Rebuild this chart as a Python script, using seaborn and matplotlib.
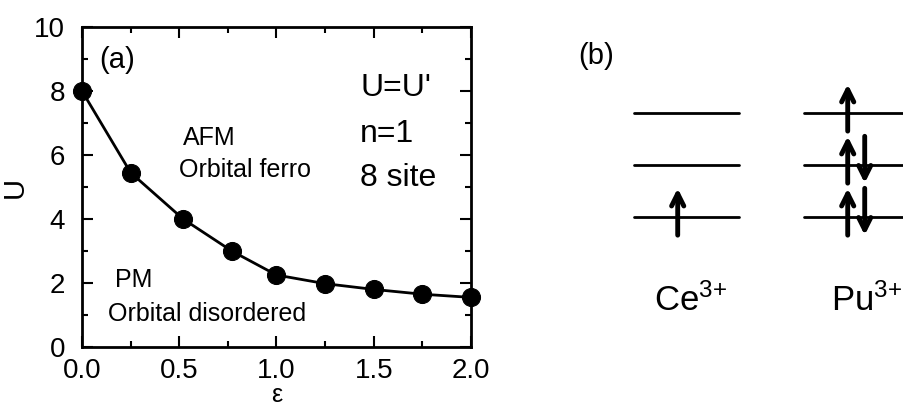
import matplotlib
matplotlib.use('Agg')
import matplotlib.pyplot as plt
import seaborn as sns
import pandas as pd
from matplotlib.ticker import MultipleLocator, FormatStrFormatter

# (a) phase boundary
eps = [0.0, 0.25, 0.52, 0.77, 1.0, 1.25, 1.5, 1.75, 2.0]
U_c = [8.0, 5.45, 4.0, 3.0, 2.25, 1.98, 1.8, 1.65, 1.55]

# (b) level occupations: (up, down) per level, levels 0..2 from bottom
ions = ['Ce$^{3{+}}$', 'Pu$^{3{+}}$']
occ = {'Ce$^{3{+}}$': [(1, 0), (0, 0), (0, 0)],
       'Pu$^{3{+}}$': [(1, 1), (1, 1), (1, 0)]}
levels = [0, 1, 2]
label_dx = [0.02, 0.06]

sns.set_style('ticks')
plt.rcParams['font.family'] = ['Liberation Sans', 'DejaVu Sans']
plt.rcParams['mathtext.fontset'] = 'custom'
plt.rcParams['mathtext.rm'] = 'Liberation Sans'
plt.rcParams['mathtext.it'] = 'Liberation Sans'
plt.rcParams['text.color'] = 'black'

fig = plt.figure(figsize=(9.04, 4.11), dpi=100)
ax = fig.add_axes([0.0907, 0.1557, 0.4303, 0.7786])

dfr = pd.DataFrame({'eps': eps, 'U': U_c})
sns.lineplot(data=dfr, x='eps', y='U', color='black', lw=2,
             marker='o', markersize=13, markeredgecolor='black', ax=ax,
             clip_on=False)

ax.set_xlim(0, 2.0)
ax.set_ylim(0, 10)
ax.xaxis.set_major_locator(MultipleLocator(0.5))
ax.xaxis.set_minor_locator(MultipleLocator(0.25))
ax.xaxis.set_major_formatter(FormatStrFormatter('%.1f'))
ax.yaxis.set_major_locator(MultipleLocator(2))
ax.yaxis.set_minor_locator(MultipleLocator(1))
ax.tick_params(which='both', direction='in', top=True, right=True, width=1.5,
               labelsize=20, colors='black')
ax.tick_params(axis='x', which='major', pad=8)
ax.tick_params(axis='y', which='major', pad=12)
ax.tick_params(which='major', length=8)
ax.tick_params(which='minor', length=4)
for s in ax.spines.values():
    s.set_linewidth(2)
    s.set_color('black')
ax.set_xlabel('ε', fontsize=18, labelpad=-1, color='black')
ax.set_ylabel('U', fontsize=21, labelpad=4, color='black')

ax.text(0.09, 8.97, '(a)', fontsize=21, va='center')
ax.text(0.52, 6.53, 'AFM', fontsize=18, va='center')
ax.text(0.50, 5.53, 'Orbital ferro', fontsize=18, va='center')
ax.text(0.17, 2.1, 'PM', fontsize=18, va='center')
ax.text(0.135, 1.03, 'Orbital disordered', fontsize=18, va='center')
ax.text(1.43, 8.1, "U=U'", fontsize=23, va='center')
ax.text(1.43, 6.65, 'n=1', fontsize=23, va='center')
ax.text(1.43, 5.28, '8 site', fontsize=23, va='center')

# (b) level scheme
bx = fig.add_axes([0.6186, 0.0, 0.3827, 1.0])
bx.set_xlim(-0.75, 1.285)
bx.set_ylim(-3.73, 4.17)
bx.axis('off')
for i, ion in enumerate(ions):
    for lv in levels:
        bx.plot([i - 0.31, i + 0.31], [lv, lv], color='black', lw=2)
        up, dn = occ[ion][lv]
        if up:
            bx.annotate('', xy=(i - 0.053, lv + 0.55), xytext=(i - 0.053, lv - 0.35),
                        arrowprops=dict(arrowstyle='->', lw=3.5, color='black',
                                        mutation_scale=22, shrinkA=0, shrinkB=0))
        if dn:
            bx.annotate('', xy=(i + 0.047, lv - 0.35), xytext=(i + 0.047, lv + 0.55),
                        arrowprops=dict(arrowstyle='->', lw=3.5, color='black',
                                        mutation_scale=22, shrinkA=0, shrinkB=0))
    bx.text(i + label_dx[i], -1.6, ion, fontsize=25, ha='center', va='center')
bx.text(-0.53, 3.1, '(b)', fontsize=21, ha='center', va='center')

fig.savefig('out.png', dpi=100)
